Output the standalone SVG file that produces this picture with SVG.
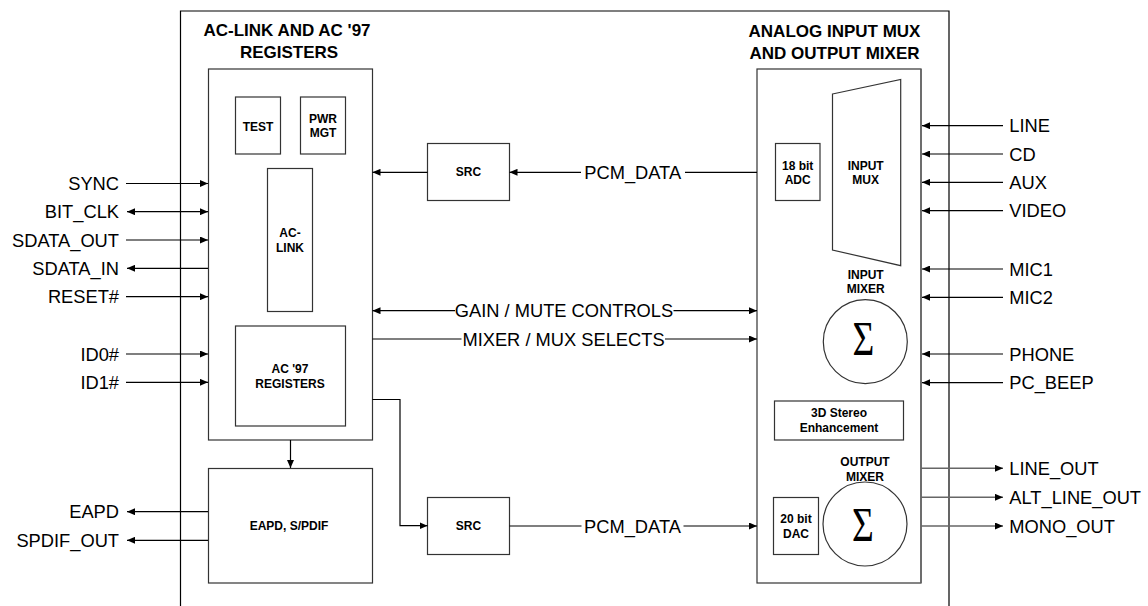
<svg xmlns="http://www.w3.org/2000/svg" width="1148" height="606" viewBox="0 0 1148 606">
<style>
.frame{fill:none;stroke:#000;stroke-width:1.2}
.box{fill:#fff;stroke:#333;stroke-width:1.2}
.ln{fill:none;stroke:#000;stroke-width:1.2}
.lg{fill:none;stroke:#666;stroke-width:1.5}
.sig{font-family:"Liberation Sans",Arial,sans-serif;font-size:18.3px;fill:#000}
.title{font-family:"Liberation Sans",Arial,sans-serif;font-size:17px;font-weight:bold;fill:#000;text-anchor:middle}
.sm{font-family:"Liberation Sans",Arial,sans-serif;font-size:12px;font-weight:bold;fill:#000;text-anchor:middle}
.sigma{font-family:"Liberation Serif","Times New Roman",serif;font-size:48px;fill:#000;text-anchor:middle}
</style>
<defs>
<marker id="arr" viewBox="0 0 8 7" refX="8" refY="3.5" markerWidth="8" markerHeight="7" markerUnits="userSpaceOnUse" orient="auto-start-reverse">
<path d="M0,0 L8,3.5 L0,7 z" fill="#000"/>
</marker>
</defs>
<rect width="1148" height="606" fill="#fff"/>
<g id="outer-frame">
<path class="frame" d="M180.5,607 V11 H949 V607"/>
</g>
<g id="title-left">
<text class="title" x="287" y="36">AC-LINK AND AC '97</text>
<text class="title" x="289" y="58">REGISTERS</text>
</g>
<g id="title-right">
<text class="title" x="834.5" y="37">ANALOG INPUT MUX</text>
<text class="title" x="834.5" y="59">AND OUTPUT MIXER</text>
</g>
<g id="aclink-block">
<rect class="box" x="208.5" y="69" width="164" height="371"/>
</g>
<g id="test">
<rect class="box" x="235.5" y="97" width="45" height="57"/>
<text class="sm" x="258" y="130.5">TEST</text>
</g>
<g id="pwrmgt">
<rect class="box" x="300.5" y="97" width="45" height="57"/>
<text class="sm" x="323" y="122.5">PWR</text>
<text class="sm" x="323" y="136.7">MGT</text>
</g>
<g id="aclink">
<rect class="box" x="267.5" y="168.5" width="45" height="143"/>
<text class="sm" x="290" y="237">AC-</text>
<text class="sm" x="290" y="252">LINK</text>
</g>
<g id="ac97regs">
<rect class="box" x="235.5" y="326" width="110" height="100"/>
<text class="sm" x="290" y="373">AC '97</text>
<text class="sm" x="290" y="388">REGISTERS</text>
</g>
<g id="eapd">
<rect class="box" x="208.5" y="468.5" width="164" height="114.5"/>
<text class="sm" x="289" y="530">EAPD, S/PDIF</text>
</g>
<g id="src-top">
<rect class="box" x="427.5" y="143.5" width="82" height="57"/>
<text class="sm" x="468.5" y="176">SRC</text>
</g>
<g id="src-bottom">
<rect class="box" x="427.5" y="497.5" width="82" height="57"/>
<text class="sm" x="468.5" y="530">SRC</text>
</g>
<g id="analog-block">
<rect class="box" x="757" y="69" width="164" height="514"/>
<line class="lg" x1="921" y1="69" x2="921" y2="583"/>
</g>
<g id="adc">
<rect class="box" x="775.5" y="143.5" width="44.5" height="57"/>
<text class="sm" x="797.7" y="170">18 bit</text>
<text class="sm" x="797.7" y="184">ADC</text>
</g>
<g id="inputmux">
<polygon class="box" points="832.5,94 900.7,79.5 900.7,265.7 832.5,250"/>
<text class="sm" x="865.7" y="170">INPUT</text>
<text class="sm" x="865.7" y="184">MUX</text>
</g>
<g id="inputmixer">
<text class="sm" x="865.7" y="279.3">INPUT</text>
<text class="sm" x="865.7" y="293.3">MIXER</text>
<circle class="box" cx="865.3" cy="341.7" r="42"/>
<text class="sigma" transform="translate(863.5,354.5) scale(0.78,1)" x="0" y="0">Σ</text>
</g>
<g id="stereo3d">
<rect class="box" x="774.5" y="401" width="129" height="39"/>
<text class="sm" x="839" y="417">3D Stereo</text>
<text class="sm" x="839" y="432">Enhancement</text>
</g>
<g id="outputmixer">
<text class="sm" x="865" y="465.7">OUTPUT</text>
<text class="sm" x="865" y="480.7">MIXER</text>
<circle class="box" cx="865" cy="524" r="42"/>
<text class="sigma" transform="translate(863,541) scale(0.78,1)" x="0" y="0">Σ</text>
</g>
<g id="dac">
<rect class="box" x="773.5" y="497.5" width="45" height="57"/>
<text class="sm" x="796" y="522.7">20 bit</text>
<text class="sm" x="796" y="537.7">DAC</text>
</g>
<g id="connectors">
<line class="ln" x1="126" y1="183.5" x2="208" y2="183.5" marker-end="url(#arr)"/>
<line class="ln" x1="127" y1="211.7" x2="208" y2="211.7" marker-start="url(#arr)" marker-end="url(#arr)"/>
<line class="ln" x1="126" y1="240" x2="208" y2="240" marker-end="url(#arr)"/>
<line class="ln" x1="208" y1="268.3" x2="127" y2="268.3" marker-end="url(#arr)"/>
<line class="ln" x1="126" y1="296.7" x2="208" y2="296.7" marker-end="url(#arr)"/>
<line class="ln" x1="126" y1="354" x2="208" y2="354" marker-end="url(#arr)"/>
<line class="ln" x1="126" y1="382.3" x2="208" y2="382.3" marker-end="url(#arr)"/>
<line class="ln" x1="208" y1="511.7" x2="127" y2="511.7" marker-end="url(#arr)"/>
<line class="ln" x1="208" y1="540.3" x2="127" y2="540.3" marker-end="url(#arr)"/>
<line class="ln" x1="290.5" y1="440" x2="290.5" y2="468" marker-end="url(#arr)"/>
<line class="ln" x1="757" y1="172.3" x2="685" y2="172.3"/>
<line class="ln" x1="581" y1="172.3" x2="509.5" y2="172.3" marker-end="url(#arr)"/>
<line class="ln" x1="427.5" y1="172.3" x2="372.5" y2="172.3" marker-end="url(#arr)"/>
<line class="ln" x1="455" y1="310.7" x2="372.5" y2="310.7" marker-end="url(#arr)"/>
<line class="ln" x1="673.5" y1="310.7" x2="757" y2="310.7" marker-end="url(#arr)"/>
<line class="ln" x1="372.5" y1="339" x2="461.5" y2="339"/>
<line class="ln" x1="665" y1="339" x2="757" y2="339" marker-end="url(#arr)"/>
<path class="ln" d="M372.5,399.5 H400 V525.7 H427.5" marker-end="url(#arr)"/>
<line class="ln" x1="509.5" y1="526" x2="581.5" y2="526"/>
<line class="ln" x1="683.5" y1="526" x2="757" y2="526" marker-end="url(#arr)"/>
<line class="ln" x1="1003" y1="125.7" x2="922" y2="125.7" marker-end="url(#arr)"/>
<line class="ln" x1="1003" y1="154" x2="922" y2="154" marker-end="url(#arr)"/>
<line class="ln" x1="1003" y1="182.3" x2="922" y2="182.3" marker-end="url(#arr)"/>
<line class="ln" x1="1003" y1="210.7" x2="922" y2="210.7" marker-end="url(#arr)"/>
<line class="ln" x1="1003" y1="269" x2="922" y2="269" marker-end="url(#arr)"/>
<line class="ln" x1="1003" y1="297.3" x2="922" y2="297.3" marker-end="url(#arr)"/>
<line class="ln" x1="1003" y1="354" x2="922" y2="354" marker-end="url(#arr)"/>
<line class="ln" x1="1003" y1="382.7" x2="922" y2="382.7" marker-end="url(#arr)"/>
<line class="lg" x1="921" y1="468.3" x2="1003" y2="468.3" marker-end="url(#arr)"/>
<line class="lg" x1="921" y1="497.3" x2="1003" y2="497.3" marker-end="url(#arr)"/>
<line class="lg" x1="921" y1="526" x2="1003" y2="526" marker-end="url(#arr)"/>
</g>
<g id="labels">
<text class="sig" text-anchor="end" x="119" y="190">SYNC</text>
<text class="sig" text-anchor="end" x="119" y="218.2">BIT_CLK</text>
<text class="sig" text-anchor="end" x="119" y="246.5">SDATA_OUT</text>
<text class="sig" text-anchor="end" x="119" y="274.8">SDATA_IN</text>
<text class="sig" text-anchor="end" x="119" y="303.2">RESET#</text>
<text class="sig" text-anchor="end" x="119" y="360.5">ID0#</text>
<text class="sig" text-anchor="end" x="119" y="388.8">ID1#</text>
<text class="sig" text-anchor="end" x="119" y="518.2">EAPD</text>
<text class="sig" text-anchor="end" x="119" y="546.8">SPDIF_OUT</text>
<text class="sig" text-anchor="middle" x="632.7" y="178.5">PCM_DATA</text>
<text class="sig" text-anchor="middle" x="564" y="317.2">GAIN / MUTE CONTROLS</text>
<text class="sig" text-anchor="middle" x="563.5" y="345.5">MIXER / MUX SELECTS</text>
<text class="sig" text-anchor="middle" x="632.5" y="532.5">PCM_DATA</text>
<text class="sig" x="1009.3" y="132.2">LINE</text>
<text class="sig" x="1009.3" y="160.5">CD</text>
<text class="sig" x="1009.3" y="188.8">AUX</text>
<text class="sig" x="1009.3" y="217.2">VIDEO</text>
<text class="sig" x="1009.3" y="275.5">MIC1</text>
<text class="sig" x="1009.3" y="303.8">MIC2</text>
<text class="sig" x="1009.3" y="360.5">PHONE</text>
<text class="sig" x="1009.3" y="389.2">PC_BEEP</text>
<text class="sig" x="1009.3" y="474.8">LINE_OUT</text>
<text class="sig" x="1009.3" y="503.8">ALT_LINE_OUT</text>
<text class="sig" x="1009.3" y="532.5">MONO_OUT</text>
</g>
</svg>
